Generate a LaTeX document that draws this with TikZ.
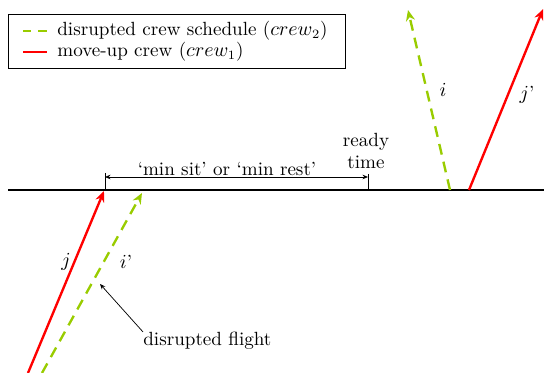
\documentclass[tikz,border=0pt]{standalone}
\usetikzlibrary{arrows.meta}
\definecolor{dgreen}{RGB}{153,204,0}
\begin{document}
\begin{tikzpicture}[x=0.55pt,y=-0.55pt,font=\fontsize{10.5}{12.6}\selectfont,
  crewtwo/.style={dgreen,line width=1.3pt,dashed,dash pattern=on 6pt off 4pt,-{Stealth[length=6pt,width=5pt]}},
  crewone/.style={red,line width=1.3pt,-{Stealth[length=6pt,width=5pt]}},
  lbl/.style={inner sep=1pt},
  dim/.style={black,line width=0.4pt,{Stealth[length=3pt,width=2.5pt]}-{Stealth[length=3pt,width=2.5pt]}}]
\useasboundingbox (0,0) rectangle (544,373);
% legend
\node[draw,line width=0.5pt,minimum width=337*0.55pt,minimum height=54*0.55pt,inner sep=0pt] (leg) at (176.5,41) {};
\coordinate (l1a) at (23,31); \coordinate (l1b) at (47,31);
\coordinate (l2a) at (23,52); \coordinate (l2b) at (47,52);
\draw[dgreen,line width=1.3pt,dash pattern=on 4.5pt off 4pt] (l1a) -- (l1b);
\draw[red,line width=1.3pt] (l2a) -- (l2b);
\node[anchor=west,inner sep=0pt] (t1) at (57,31) {disrupted crew schedule ($crew_2$)};
\node[anchor=west,inner sep=0pt] (t2) at (57,52) {move-up crew ($crew_1$)};
% axis
\coordinate (axL) at (8,190); \coordinate (axR) at (544,190);
\draw[line width=0.9pt] (axL) -- (axR);
% flights
\coordinate (jS) at (28,373); \coordinate (jE) at (104,191);
\coordinate (ipS) at (42,373); \coordinate (ipE) at (142,193);
\coordinate (iS) at (450,190); \coordinate (iE) at (408,10);
\coordinate (jpS) at (469,190); \coordinate (jpE) at (543,9);
\draw[crewone] (jS) -- (jE);
\draw[crewtwo] (ipS) -- (ipE);
\draw[crewtwo] (iS) -- (iE);
\draw[crewone] (jpS) -- (jpE);
\node[lbl] (lj) at (66,262) {$j$};
\node[lbl] (lip) at (126,262) {$i$'};
\node[lbl] (li) at (443,90) {$i$};
\node[lbl] (ljp) at (527,95) {$j$'};
% dimension
\coordinate (d1a) at (105,173); \coordinate (d1b) at (105,190);
\coordinate (d2a) at (368,174); \coordinate (d2b) at (368,190);
\draw[line width=0.5pt] (d1a) -- (d1b);
\draw[line width=0.5pt] (d2a) -- (d2b);
\coordinate (dl) at (105,177); \coordinate (dr) at (368,177);
\draw[dim] (dl) -- (dr);
\node[inner sep=0pt] (ms) at (227,169) {`min sit' or `min rest'};
\node[align=center,inner sep=0pt] (rt) at (366,151) {ready\\time};
% annotation
\node[anchor=west,inner sep=0pt] (df) at (143,341) {disrupted flight};
\coordinate (dfp) at (100,284);
\draw[line width=0.4pt,-{Stealth[length=3pt,width=2.5pt]}] (df.north west) -- (dfp);
\end{tikzpicture}
\end{document}
